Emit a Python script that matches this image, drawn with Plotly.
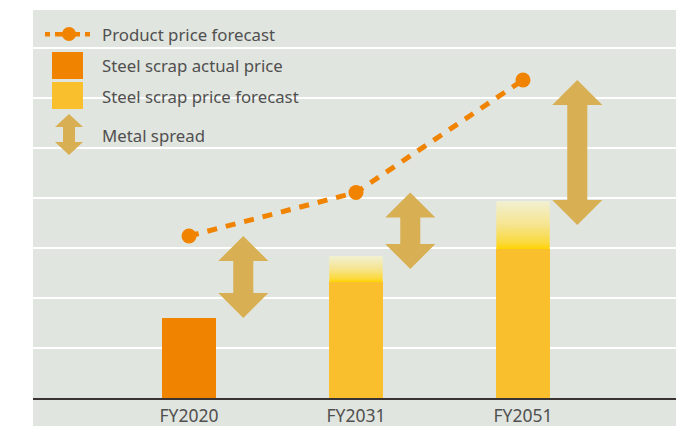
import plotly.graph_objects as go

# ---- data ----
categories = ["FY2020", "FY2031", "FY2051"]
cat_pos = [0, 1, 2]
product_price_forecast = [3.24, 4.11, 6.36]
scrap_actual_price = [1.60]            # FY2020
scrap_forecast_low = [2.32, 2.98]      # FY2031, FY2051 (solid part)
scrap_forecast_high = [2.84, 3.94]     # top of the forecast range (gradient part)

# ---- style ----
ORANGE = "#F08300"
YELLOW = "#F9BF2C"
GOLD = "#D8AF52"
BG = "#E1E5DF"
TEXT = "#505050"
FONT = "Noto Sans"

W, H = 685, 426
ML, MR, MT, MB = 33, 9, 10, 28
PX_PER_X = 167.0
X0 = -(189 - ML) / PX_PER_X
X1 = X0 + (W - ML - MR) / PX_PER_X
Y1 = (H - MT - MB) / 50.0
PLOT_W = W - ML - MR
PLOT_H = H - MT - MB

BAR_W = 0.32
ARROW_DX = 0.325
HEAD_HALF = 0.15
SHAFT_HALF = 0.06
HEAD_H = 0.5

fig = go.Figure()

# actual price bar
fig.add_trace(go.Bar(x=[cat_pos[0]], y=scrap_actual_price, width=BAR_W,
                     marker=dict(color=ORANGE, line=dict(width=0)),
                     showlegend=False, hoverinfo="skip"))
# forecast bars (solid part)
fig.add_trace(go.Bar(x=cat_pos[1:], y=scrap_forecast_low, width=BAR_W,
                     marker=dict(color=YELLOW, line=dict(width=0)),
                     showlegend=False, hoverinfo="skip"))

# forecast range with vertical gradient
for xc, lo, hi in zip(cat_pos[1:], scrap_forecast_low, scrap_forecast_high):
    fig.add_trace(go.Scatter(
        x=[xc - BAR_W / 2, xc + BAR_W / 2, xc + BAR_W / 2, xc - BAR_W / 2, xc - BAR_W / 2],
        y=[lo, lo, hi, hi, lo],
        mode="lines", line=dict(width=0), fill="toself",
        fillgradient=dict(type="vertical", start=lo, stop=hi,
                          colorscale=[[0, "#FFD400"], [0.12, "#FBD93A"],
                                      [0.5, "#F6E48E"], [1, "#F1F0D3"]]),
        showlegend=False, hoverinfo="skip"))

# metal spread arrows: from scrap price up to product price
spread_base = scrap_actual_price + [(a + b) / 2 for a, b in zip(scrap_forecast_low, scrap_forecast_high)]
for xc, bot, top in zip(cat_pos, spread_base, product_price_forecast):
    ax = xc + ARROW_DX
    xs = [ax, ax + HEAD_HALF, ax + SHAFT_HALF, ax + SHAFT_HALF, ax + HEAD_HALF, ax,
          ax - HEAD_HALF, ax - SHAFT_HALF, ax - SHAFT_HALF, ax - HEAD_HALF, ax]
    ys = [top, top - HEAD_H, top - HEAD_H, bot + HEAD_H, bot + HEAD_H, bot,
          bot + HEAD_H, bot + HEAD_H, top - HEAD_H, top - HEAD_H, top]
    fig.add_trace(go.Scatter(x=xs, y=ys, mode="lines", line=dict(width=0),
                             fill="toself", fillcolor=GOLD,
                             showlegend=False, hoverinfo="skip"))

# product price forecast line
fig.add_trace(go.Scatter(x=cat_pos, y=product_price_forecast, mode="lines+markers",
                         line=dict(color=ORANGE, width=5, dash="10px,9px"),
                         marker=dict(color=ORANGE, size=15),
                         showlegend=False, hoverinfo="skip"))


# ---- hand-drawn legend (pixel positions converted to paper coords) ----
def px(x):
    return (x - ML) / PLOT_W


def py(y):
    return (H - MB - y) / PLOT_H


shapes = []
# white margins on the left, top and right; the panel colour fills the rest
shapes.append(dict(type="rect", xref="paper", yref="paper", x0=px(-5), x1=px(ML),
                   y0=py(H + 5), y1=py(-5), fillcolor="white", line=dict(width=0), layer="below"))
shapes.append(dict(type="rect", xref="paper", yref="paper", x0=px(-5), x1=px(W + 5),
                   y0=py(MT), y1=py(-5), fillcolor="white", line=dict(width=0), layer="below"))
shapes.append(dict(type="rect", xref="paper", yref="paper", x0=px(W - MR), x1=px(W + 5),
                   y0=py(H + 5), y1=py(-5), fillcolor="white", line=dict(width=0), layer="below"))

# line + marker icon
for a, b in [(45, 50), (55, 80), (85, 90)]:
    shapes.append(dict(type="rect", xref="paper", yref="paper",
                       x0=px(a), x1=px(b), y0=py(36.5), y1=py(32),
                       fillcolor=ORANGE, line=dict(width=0)))
shapes.append(dict(type="circle", xref="paper", yref="paper",
                   x0=px(62), x1=px(76), y0=py(41), y1=py(27),
                   fillcolor=ORANGE, line=dict(width=0)))
# squares
shapes.append(dict(type="rect", xref="paper", yref="paper", x0=px(52), x1=px(83),
                   y0=py(79), y1=py(52), fillcolor=ORANGE, line=dict(width=0)))
shapes.append(dict(type="rect", xref="paper", yref="paper", x0=px(52), x1=px(83),
                   y0=py(109), y1=py(82), fillcolor=YELLOW, line=dict(width=0)))
# arrow icon
cx = 69
pts = [(cx, 114), (cx + 14, 127), (cx + 6, 127), (cx + 6, 142), (cx + 14, 142), (cx, 155),
       (cx - 14, 142), (cx - 6, 142), (cx - 6, 127), (cx - 14, 127)]
path = "M " + " L ".join(f"{px(x):.5f},{py(y):.5f}" for x, y in pts) + " Z"
shapes.append(dict(type="path", xref="paper", yref="paper", path=path,
                   fillcolor=GOLD, line=dict(width=0)))

legend_labels = ["Product price forecast", "Steel scrap actual price",
                 "Steel scrap price forecast", "Metal spread"]
legend_y = [34, 65, 96, 135]
annotations = [dict(text=t, xref="paper", yref="paper", x=px(100), y=py(yy),
                    xanchor="left", yanchor="middle", showarrow=False,
                    font=dict(family=FONT, size=16.8, color=TEXT))
               for t, yy in zip(legend_labels, legend_y)]

fig.update_layout(
    width=W, height=H, autosize=False,
    margin=dict(l=ML, r=MR, t=MT, b=MB, pad=0, autoexpand=False),
    paper_bgcolor=BG, plot_bgcolor=BG,
    barmode="overlay", bargap=0,
    shapes=shapes, annotations=annotations,
    font=dict(family=FONT, color=TEXT),
    xaxis=dict(range=[X0, X1], tickvals=cat_pos, ticktext=categories,
               showgrid=False, zeroline=False, showline=True,
               linecolor="#3a3333", linewidth=1.5, ticks="",
               ticklabelstandoff=1, automargin=False,
               tickfont=dict(family=FONT, size=17.5, color=TEXT)),
    yaxis=dict(range=[0, Y1], dtick=1, showgrid=True, gridcolor="white",
               gridwidth=1.5, zeroline=False, showticklabels=False, ticks="",
               automargin=False),
)

fig.write_html("out.html")
